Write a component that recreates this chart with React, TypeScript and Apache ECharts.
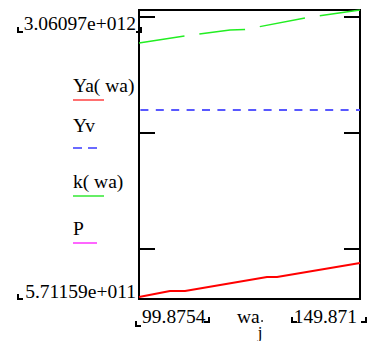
import React, { useEffect, useRef } from "react";
import * as echarts from "echarts";

// ---- data ----
const X_MIN = 99.8754;
const X_MAX = 149.871;
const Y_MIN = 5.71159e11;
const Y_MAX = 3.06097e12;

const xTickLabels = ["99.8754", "149.871"];
const yTickLabels = ["3.06097e+012", "5.71159e+011"];
const xAxisName = "wa";
const xAxisSub = "j";
const yTickValues = [1e12, 2e12, 3e12];

const legendNames = ["Ya( wa)", "Yv", "k( wa)", "P"];

const waYa = [99.8754, 106.888, 110.282, 128.832, 131.094, 149.871];
const YaValues = [5.884e11, 6.401e11, 6.401e11, 7.607e11, 7.607e11, 8.813e11];

const waYv = [99.8754, 149.871];
const YvValues = [2.1995e12, 2.1995e12];

const waK = [99.8754, 110.282, 120.462, 123.855, 137.881, 149.871];
const kValues = [2.7767e12, 2.837e12, 2.8887e12, 2.893e12, 2.9963e12, 3.06097e12];

const zip = (xs: number[], ys: number[]) => xs.map((x, i) => [x, ys[i]]);

const FAMILY = "Liberation Serif";

function txt(text: string, x: number, y: number, align: string, size = 19.5) {
  return {
    type: "text",
    x,
    y,
    style: {
      text,
      fontFamily: FAMILY,
      fontSize: size,
      fill: "#000",
      align,
      verticalAlign: "middle",
    },
  };
}

function bracketL(x: number, y: number) {
  return {
    type: "polyline",
    shape: { points: [[x, y], [x, y + 5], [x + 5, y + 5]] },
    style: { stroke: "#000", lineWidth: 2, fill: null },
  };
}
function bracketR(x: number, y: number) {
  return {
    type: "polyline",
    shape: { points: [[x, y], [x, y + 5], [x - 5, y + 5]] },
    style: { stroke: "#000", lineWidth: 2, fill: null },
  };
}

export default function App() {
  const ref = useRef<HTMLDivElement>(null);
  useEffect(() => {
    if (!ref.current) return;
    const chart = echarts.init(ref.current, undefined, { renderer: "svg" });

    const legendColors = ["#ff7070", "#6a6aff", "#66ee66", "#ff66ff"];
    const legendBase = [92, 132, 188, 235];
    const legendLineY = [100, 148, 196, 243];
    const legendLineW = [31, 24, 31, 24];
    const legendGraphics: any[] = [];
    legendNames.forEach((name, i) => {
      legendGraphics.push(txt(name, 73, legendBase[i] - 6.4, "left"));
      legendGraphics.push({
        type: "line",
        shape: { x1: 73, y1: legendLineY[i], x2: 73 + legendLineW[i], y2: legendLineY[i] },
        style: {
          stroke: legendColors[i],
          lineWidth: 2,
          lineDash: i === 1 ? [9, 6] : null,
        },
      });
    });

    const labelGraphics: any[] = [
      txt(yTickLabels[0], 136, 23, "right"),
      txt(yTickLabels[1], 136, 291, "right"),
      txt(xTickLabels[0], 142, 316, "left"),
      txt(xTickLabels[1], 357, 316, "right"),
      txt(xAxisName, 237, 316, "left"),
      txt(xAxisSub, 260, 332, "center", 17),
      {
        type: "circle",
        shape: { cx: 262, cy: 321, r: 0.8 },
        style: { fill: "#000" },
      },
      bracketL(18, 27),
      bracketR(141, 27),
      bracketL(18, 294),
      bracketL(136, 321),
      bracketR(209, 317),
      bracketL(292, 317),
      bracketR(366, 317),
    ];

    const yAxisBase = (position: "left" | "right") => ({
      type: "value",
      position,
      min: Y_MIN,
      max: Y_MAX,
      axisLine: { show: false },
      axisLabel: { show: false },
      splitLine: { show: false },
      axisTick: {
        show: true,
        inside: true,
        length: 16,
        customValues: yTickValues,
        lineStyle: { color: "#000", width: 2 },
      },
    });

    chart.setOption({
      animation: false,
      backgroundColor: "#fff",
      grid: {
        left: 139,
        top: 10,
        width: 221,
        height: 289,
        show: true,
        borderColor: "#000",
        borderWidth: 2,
        backgroundColor: "transparent",
      },
      xAxis: {
        type: "value",
        min: X_MIN,
        max: X_MAX,
        axisLine: { show: false },
        axisTick: { show: false },
        axisLabel: { show: false },
        splitLine: { show: false },
      },
      yAxis: [yAxisBase("left"), yAxisBase("right")],
      series: [
        {
          name: legendNames[0],
          type: "line",
          data: zip(waYa, YaValues),
          showSymbol: false,
          symbol: "none",
          lineStyle: { color: "#ff0000", width: 2 },
          z: 3,
        },
        {
          name: legendNames[1],
          type: "line",
          data: zip(waYv, YvValues),
          showSymbol: false,
          symbol: "none",
          lineStyle: { color: "#5858ff", width: 2, type: [8, 7.4], dashOffset: 13.7 },
        },
        {
          name: legendNames[2],
          type: "line",
          data: zip(waK, kValues),
          showSymbol: false,
          symbol: "none",
          lineStyle: { color: "#22ee22", width: 1.5, type: [46, 15], dashOffset: 0 },
        },
      ],
      graphic: [...legendGraphics, ...labelGraphics],
    });

    return () => chart.dispose();
  }, []);

  return (
    <div
      ref={ref}
      style={{ position: "absolute", left: 0, top: 0, width: 370, height: 341 }}
    />
  );
}
